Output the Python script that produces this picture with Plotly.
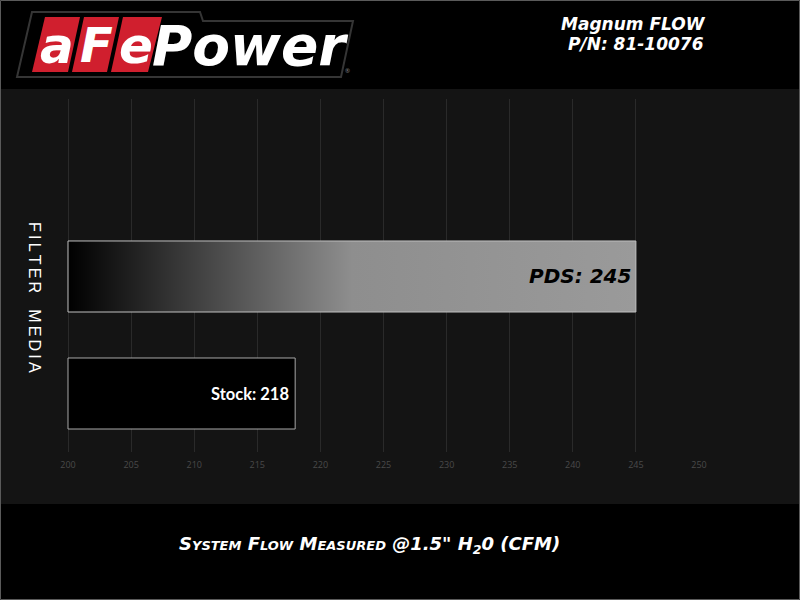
import plotly.graph_objects as go

# ---------------- data ----------------
categories = ["Stock", "PDS"]
flow_cfm = [218, 245]
x_ticks = [200, 205, 210, 215, 220, 225, 230, 235, 240, 245, 250]
header_lines = ["Magnum FLOW", "P/N: 81-10076"]
x_title = 'System Flow Measured @1.5" H<sub>2</sub>0 (CFM)'
y_title = "FILTER MEDIA"

# ---------------- layout geometry ----------------
W, H = 800, 600
ML, MR, MT, MB = 65, 101, 99, 148
PW, PH = W - ML - MR, H - MT - MB
x_base = 200
x_range = [x_base - 3 / (631 / 50), 250]
bar_w = 0.607
y_range = [-0.5, 2.517]


def px(x, y):
    return (x - ML) / PW, (H - MB - y) / PH


def path(pts):
    s = ""
    for i, (x, y) in enumerate(pts):
        a, b = px(x, y)
        s += ("M" if i == 0 else "L") + f"{a:.5f},{b:.5f} "
    return s + "Z"


fig = go.Figure()

ypos = list(range(len(categories)))
bar_fill = {"Stock": dict(fillcolor="#000000"),
            "PDS": dict(fillgradient=dict(type="horizontal",
                                          colorscale=[[0, "#000000"], [0.5, "#8e8e8e"], [1, "#9a9a9a"]]))}
bar_line = {"Stock": "#a8a8a8", "PDS": "#c0c0c0"}

for cat, val, yp in zip(categories, flow_cfm, ypos):
    y0, y1 = yp - bar_w / 2, yp + bar_w / 2
    fig.add_trace(go.Scatter(
        x=[x_base, val, val, x_base, x_base],
        y=[y0, y0, y1, y1, y0],
        mode="lines", fill="toself",
        line=dict(color=bar_line[cat], width=1),
        hoverinfo="skip", showlegend=False,
        **bar_fill[cat]))

# value labels
lab_font = {
    "Stock": dict(family="Lato", size=16.5, color="#ffffff", weight="bold"),
    "PDS": dict(family="DejaVu Sans", size=20, color="#000000", weight="bold", style="italic"),
}
lab_shift = {"Stock": -4, "PDS": -3}
for cat, val, yp in zip(categories, flow_cfm, ypos):
    fig.add_annotation(x=val, y=yp, xref="x", yref="y", text=f"{cat}: {val}",
                       showarrow=False, xanchor="right", yanchor="middle",
                       xshift=lab_shift[cat], font=lab_font[cat])

shapes = []
# dark chart band
x0p, _ = px(0, 0)
x1p, _ = px(W, 0)
_, yt = px(0, 89)
_, yb = px(0, 504)
shapes.append(dict(type="rect", xref="paper", yref="paper", x0=x0p, x1=x1p, y0=yb, y1=yt,
                   fillcolor="#141414", line=dict(width=0), layer="below"))

# logo backdrop
shapes.append(dict(type="path", xref="paper", yref="paper",
                   path=path([(17, 77), (32, 12), (200, 12), (203, 21), (353, 21), (341, 77)]),
                   fillcolor="#000000", line=dict(color="#353535", width=2), layer="above"))
red_boxes = [
    [(45, 17), (80, 17), (68, 72), (32, 72)],
    [(84, 17), (119, 17), (107, 72), (72, 72)],
    [(123, 17), (162, 17), (148, 72), (111, 72)],
]
for b in red_boxes:
    shapes.append(dict(type="path", xref="paper", yref="paper", path=path(b),
                       fillcolor="#d01f2e", line=dict(width=0), layer="above"))
# border
shapes.append(dict(type="rect", xref="paper", yref="paper",
                   x0=px(0.5, 0)[0], x1=px(799.5, 0)[0], y0=px(0, 599.5)[1], y1=px(0, 0.5)[1],
                   fillcolor="rgba(0,0,0,0)", line=dict(color="#5a5a5a", width=1), layer="above"))

logo_font = dict(family="DejaVu Sans", color="#ffffff", weight="bold", style="italic")
for ch, (cx, cy), sz in zip(["a", "F", "e"], [(57, 46), (96, 45), (136, 46)], [50, 48, 50]):
    a, b = px(cx, cy)
    fig.add_annotation(x=a, y=b, xref="paper", yref="paper", text=ch, showarrow=False,
                       xanchor="center", yanchor="middle", font=dict(size=sz, **logo_font))
a, b = px(150, 46)
fig.add_annotation(x=a, y=b, xref="paper", yref="paper", text="Power", showarrow=False,
                   xanchor="left", yanchor="middle", font=dict(size=55, **logo_font))
a, b = px(347, 71)
fig.add_annotation(x=a, y=b, xref="paper", yref="paper", text="®", showarrow=False,
                   xanchor="center", yanchor="middle", font=dict(size=6, color="#888888"))

# header
for t, (cx, cy) in zip(header_lines, [(633, 24), (636, 44)]):
    a, b = px(cx, cy)
    fig.add_annotation(x=a, y=b, xref="paper", yref="paper", text=t, showarrow=False,
                       xanchor="center", yanchor="middle",
                       font=dict(family="DejaVu Sans", size=17, color="#ffffff",
                                 weight="bold", style="italic"))

# axis titles
a, b = px(369, 545)
fig.add_annotation(x=a, y=b, xref="paper", yref="paper", text=x_title, showarrow=False,
                   xanchor="center", yanchor="middle",
                   font=dict(family="DejaVu Sans", size=18, color="#ffffff",
                             weight="bold", style="italic", variant="small-caps"))
a, b = px(35, 297)
fig.add_annotation(x=a, y=b, xref="paper", yref="paper",
                   text="\u2009".join(list(y_title)).replace("\u2009 \u2009", "\u2003"),
                   showarrow=False, textangle=90,
                   xanchor="center", yanchor="middle",
                   font=dict(family="Liberation Sans", size=16, color="#ffffff"))

fig.update_layout(
    width=W, height=H,
    margin=dict(l=ML, r=MR, t=MT, b=MB, pad=0),
    paper_bgcolor="#000000", plot_bgcolor="rgba(0,0,0,0)",
    shapes=shapes, showlegend=False,
    xaxis=dict(range=x_range, tickvals=x_ticks, ticktext=[str(v) for v in x_ticks],
               showgrid=True, gridcolor="#2a2a2a", gridwidth=1, zeroline=False,
               showline=False, ticks="", ticklabelstandoff=6,
               tickfont=dict(family="Open Sans", size=9, color="#4a4a4a"),
               fixedrange=True),
    yaxis=dict(range=y_range, showgrid=False, zeroline=False, showticklabels=False,
               showline=False, ticks="", fixedrange=True),
)

fig.write_html("out.html", config={"displayModeBar": False},
               post_script="document.body.style.margin='0px';document.body.style.overflow='hidden';")
